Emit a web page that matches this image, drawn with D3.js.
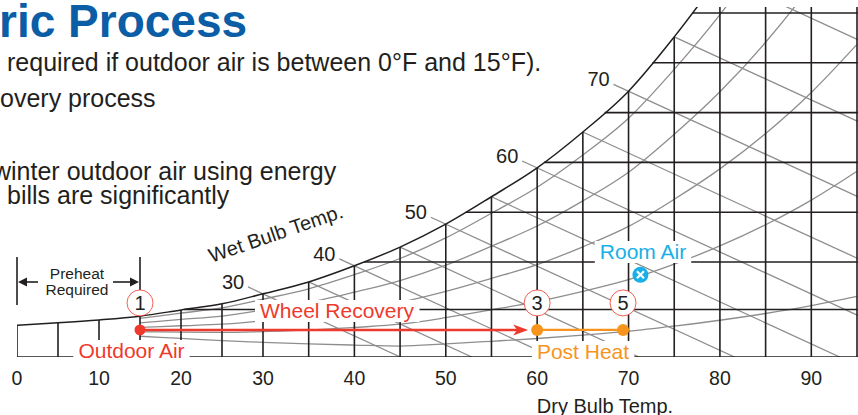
<!DOCTYPE html>
<html>
<head>
<meta charset="utf-8">
<script src="https://cdn.jsdelivr.net/npm/d3@7"></script>
<style>
body { margin: 0; background: #fff; }
svg { display: block; font-family: "Liberation Sans", Arial, Helvetica, sans-serif; }
</style>
</head>
<body>
<svg width="858" height="415"></svg>
<script>
// saturation curve: dry bulb (F) -> humidity (chart units, 10 per grid line)
// values past 78F are above the top of the chart, estimated
var satTemp = [0, 5, 10, 15, 20, 25, 30, 35, 40, 45, 50, 55, 60, 65, 70, 75, 80, 85, 90, 95];
var satHum  = [6.7, 7.2, 7.8, 8.6, 9.9, 11.2, 13.3, 15.8, 19.2, 23.0, 27.6, 33.1, 38.9, 46.1, 54.3, 65.2, 77.4, 91.6, 108.1, 127.4];

var dryTicks  = [0, 10, 20, 30, 40, 50, 60, 70, 80, 90];
var gridTemps = [0, 5, 10, 15, 20, 25, 30, 35, 40, 45, 50, 55, 60, 65, 70, 75, 80, 85, 90, 95];
var humLines  = [10, 20, 30, 40, 50, 60, 70];
var wetBulb   = [30, 35, 40, 45, 50, 55, 60, 65, 70, 75, 80];
var wetLabels = [30, 40, 50, 60, 70];
var rhLines   = [0.1, 0.3, 0.5, 0.7, 0.9];

// process states
var stateIds  = ["1", "3", "5"];
var stateTemp = [15, 60, 69.4];
var stateHum  = [5.7, 5.7, 5.7];
var roomTemp = 71.3, roomHum = 17.3;

var red = "#ee3a2c", orange = "#f7941e", blue = "#18b0e6", ink = "#231f20";

var svg = d3.select("svg");

var x = d3.scaleLinear().domain([0, 30, 95]).range([17, 263, 857]);
var y = d3.scaleLinear().domain([0, 20, 70]).range([357, 262, 13]);
var wTop = y.invert(7);

var sat = d3.scaleLinear().domain(satTemp).range(satHum);
var satInv = d3.scaleLinear().domain(satHum).range(satTemp);

svg.append("clipPath").attr("id", "chart")
    .append("rect").attr("x", 17).attr("y", 7).attr("width", 841).attr("height", 350);

var chart = svg.append("g").attr("clip-path", "url(#chart)");

// relative humidity curves (start at 15F)
function wLow(t) { return Math.max(0, 3.9 * (1 - (t - 15) / 30)); }
var rhTemps = satTemp.filter(function(t) { return t >= 15; });
var rhLine = d3.line()
    .x(function(d) { return x(d[0]); })
    .y(function(d) { return y(d[1]); })
    .curve(d3.curveMonotoneX);

chart.append("g")
    .selectAll("path")
    .data(rhLines)
    .enter().append("path")
    .attr("fill", "none")
    .attr("stroke", "#8e8e8e")
    .attr("stroke-width", 1.3)
    .attr("d", function(rh) {
        return rhLine(rhTemps.map(function(t) {
            var lo = wLow(t);
            return [t, lo + rh * (sat(t) - lo)];
        }));
    });

// wet bulb lines
var wbSlope = 0.46;
chart.append("g")
    .selectAll("line")
    .data(wetBulb)
    .enter().append("line")
    .attr("stroke", "#8e8e8e")
    .attr("stroke-width", 1.3)
    .attr("x1", function(d) { return x(d) - (wetLabels.indexOf(d) >= 0 ? 15 : 0); })
    .attr("y1", function(d) { return y(sat(d)) - (wetLabels.indexOf(d) >= 0 ? 15 * wbSlope : 0); })
    .attr("x2", function(d) { return x(d) + (y(0) - y(sat(d))) / wbSlope; })
    .attr("y2", y(0));

svg.append("g")
    .selectAll("text")
    .data(wetLabels)
    .enter().append("text")
    .attr("x", function(d) { return x(d) - 30; })
    .attr("y", function(d) { return y(sat(d)) - 5; })
    .attr("text-anchor", "middle")
    .attr("fill", ink)
    .style("font-size", "20px")
    .text(function(d) { return d; });

// black grid
var grid = chart.append("g").attr("stroke", ink).attr("stroke-width", 1.6);

grid.selectAll(".v")
    .data(gridTemps)
    .enter().append("line")
    .attr("x1", function(d) { return x(d); })
    .attr("x2", function(d) { return x(d); })
    .attr("y1", y(0))
    .attr("y2", function(d) { return y(Math.min(sat(d), wTop)); });

grid.selectAll(".h")
    .data(humLines)
    .enter().append("line")
    .attr("x1", function(d) { return x(satInv(d)); })
    .attr("x2", 858)
    .attr("y1", function(d) { return y(d); })
    .attr("y2", function(d) { return y(d); });

grid.append("line")
    .attr("x1", x(0)).attr("x2", 858)
    .attr("y1", y(0)).attr("y2", y(0));

chart.append("path")
    .datum(satTemp.filter(function(t) { return t <= 80; }))
    .attr("fill", "none")
    .attr("stroke", ink)
    .attr("stroke-width", 1.5)
    .attr("d", d3.line()
        .x(function(d) { return x(d); })
        .y(function(d) { return y(sat(d)); })
        .curve(d3.curveMonotoneX));

// preheat bracket
var br = svg.append("g").attr("stroke", ink).attr("stroke-width", 1.6);
br.append("line").attr("x1", x(0)).attr("x2", x(0)).attr("y1", 257).attr("y2", 305);
br.append("line").attr("x1", x(15)).attr("x2", x(15)).attr("y1", 257).attr("y2", y(sat(15)));
br.append("line").attr("x1", x(0) + 6).attr("x2", 38).attr("y1", 282).attr("y2", 282);
br.append("line").attr("x1", 113).attr("x2", x(15) - 6).attr("y1", 282).attr("y2", 282);
svg.append("path").attr("fill", ink)
    .attr("d", "M" + (x(0) + 1) + ",282 l9,-4.5 l0,9 z");
svg.append("path").attr("fill", ink)
    .attr("d", "M" + (x(15) - 1) + ",282 l-9,-4.5 l0,9 z");
svg.append("text").attr("x", 77).attr("y", 279).attr("text-anchor", "middle")
    .attr("fill", ink).style("font-size", "15.5px").text("Preheat");
svg.append("text").attr("x", 77).attr("y", 295).attr("text-anchor", "middle")
    .attr("fill", ink).style("font-size", "15.5px").text("Required");

// axis labels
svg.append("g")
    .selectAll("text")
    .data(dryTicks)
    .enter().append("text")
    .attr("x", function(d) { return x(d); })
    .attr("y", 385)
    .attr("text-anchor", "middle")
    .attr("fill", ink)
    .style("font-size", "19.5px")
    .text(function(d) { return d; });

svg.append("text").attr("x", 605).attr("y", 413).attr("text-anchor", "middle")
    .attr("fill", ink).style("font-size", "20px").text("Dry Bulb Temp.");

svg.append("text")
    .attr("transform", "translate(278,240) rotate(-19)")
    .attr("text-anchor", "middle")
    .attr("fill", ink).style("font-size", "20px").text("Wet Bulb Temp.");

// labels with white background
function label(txt, cx, base, color) {
    var g = svg.append("g");
    var r = g.append("rect").attr("fill", "#fff");
    var t = g.append("text")
        .attr("x", cx).attr("y", base)
        .attr("text-anchor", "middle")
        .attr("fill", color)
        .style("font-size", "21px")
        .text(txt);
    var b = t.node().getBBox();
    r.attr("x", b.x - 5).attr("y", b.y + 1).attr("width", b.width + 10).attr("height", b.height - 1);
}
label("Outdoor Air", 131.5, 358, red);
label("Wheel Recovery", 337, 318, red);
label("Post Heat", 583, 359, orange);
label("Room Air", 643, 259, blue);

// process lines
var py = y(stateHum[0]);
var tip = x(stateTemp[1]) - 9;
svg.append("line")
    .attr("x1", x(stateTemp[0])).attr("x2", tip - 8)
    .attr("y1", py).attr("y2", py)
    .attr("stroke", red).attr("stroke-width", 2.5);
svg.append("path").attr("fill", red)
    .attr("d", "M" + tip + "," + py + " l-15,-5.5 l4,5.5 l-4,5.5 z");
svg.append("line")
    .attr("x1", x(stateTemp[1])).attr("x2", x(stateTemp[2]))
    .attr("y1", y(stateHum[1])).attr("y2", y(stateHum[2]))
    .attr("stroke", orange).attr("stroke-width", 2.2);

svg.append("g")
    .selectAll("circle")
    .data(stateTemp)
    .enter().append("circle")
    .attr("cx", function(d) { return x(d); })
    .attr("cy", function(d, i) { return y(stateHum[i]); })
    .attr("r", function(d, i) { return i ? 6 : 5.5; })
    .attr("fill", function(d, i) { return i ? orange : red; });

// numbered state badges
var badge = svg.append("g")
    .selectAll("g")
    .data(stateIds)
    .enter().append("g")
    .attr("transform", function(d, i) {
        return "translate(" + x(stateTemp[i]) + "," + (y(stateHum[i]) - 27) + ")";
    });
badge.append("circle").attr("r", 13)
    .attr("fill", "#fff").attr("stroke", red).attr("stroke-width", 0.8);
badge.append("text").attr("y", 7).attr("text-anchor", "middle")
    .attr("fill", ink).style("font-size", "20px")
    .text(function(d) { return d; });

// room air
var rx = x(roomTemp), ry = y(roomHum);
svg.append("circle").attr("cx", rx).attr("cy", ry).attr("r", 8).attr("fill", blue);
svg.append("path")
    .attr("d", "M" + (rx - 3.5) + "," + (ry - 3.5) + "l7,7 M" + (rx + 3.5) + "," + (ry - 3.5) + "l-7,7")
    .attr("stroke", "#fff").attr("stroke-width", 2.2);

// page text around the chart
svg.append("text").attr("x", -1).attr("y", 37)
    .attr("fill", "#0b5da5").style("font-size", "46px").style("font-weight", "bold")
    .text("ric Process");

var body = svg.append("g").attr("fill", ink).style("font-size", "25px");
body.append("text").attr("x", 7).attr("y", 71).text("required if outdoor air is between 0°F and 15°F).");
body.append("text").attr("x", 0).attr("y", 107).text("overy process");
body.append("text").attr("x", -7).attr("y", 180).text("winter outdoor air using energy");
body.append("text").attr("x", 7).attr("y", 204).text("bills are significantly");
</script>
</body>
</html>
